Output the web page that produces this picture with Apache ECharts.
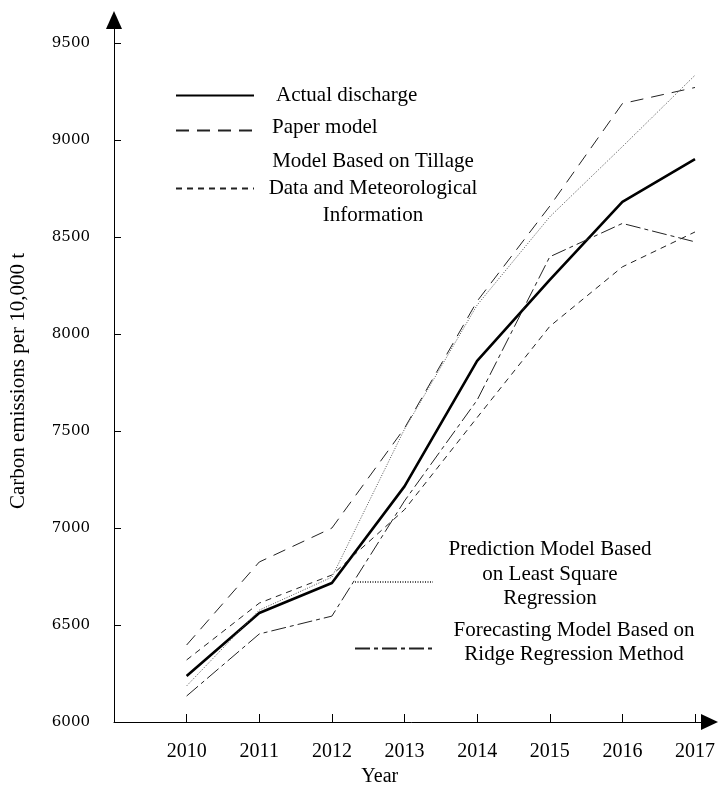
<!DOCTYPE html>
<html>
<head>
<meta charset="utf-8">
<script src="https://cdn.jsdelivr.net/npm/echarts@6/dist/echarts.min.js"></script>
<style>
  html, body { margin: 0; padding: 0; background: #fff; }
  #chart { width: 718px; height: 792px; }
</style>
</head>
<body>
<div id="chart"></div>
<script>
  // values
  var years = [2010, 2011, 2012, 2013, 2014, 2015, 2016, 2017];
  var actual = [6237, 6562, 6717, 7215, 7862, 8280, 8682, 8902];
  var paper = [6397, 6825, 7000, 7515, 8170, 8660, 9189, 9272];
  var tillage = [6320, 6613, 6758, 7095, 7570, 8040, 8347, 8527];
  var leastSquare = [6186, 6577, 6747, 7510, 8150, 8605, 8967, 9335];
  var ridge = [6134, 6454, 6546, 7140, 7660, 8399, 8571, 8476];

  var names = [
    'Actual discharge',
    'Paper model',
    'Model Based on Tillage\nData and Meteorological\nInformation',
    'Prediction Model Based\non Least Square\nRegression',
    'Forecasting Model Based on\nRidge Regression Method'
  ];

  var serif = 'Liberation Serif';

  function pairs(vals) {
    return years.map(function (y, i) { return [y, vals[i]]; });
  }

  function line(name, vals, style) {
    return {
      name: name,
      type: 'line',
      symbol: 'none',
      showSymbol: false,
      silent: true,
      lineStyle: style,
      data: pairs(vals)
    };
  }

  function legendBox(name, left, top, boxWidth, lineH, align, pad) {
    return {
      data: [name],
      left: left,
      top: top,
      padding: 0,
      itemWidth: 78,
      itemHeight: 14,
      selectedMode: false,
      itemStyle: { opacity: 0 },
      formatter: function (n) { return '{t|' + n + '}'; },
      textStyle: {
        padding: pad,
        rich: {
          t: {
            fontFamily: serif,
            fontSize: 21,
            color: '#000',
            lineHeight: lineH,
            width: boxWidth,
            align: align
          }
        }
      }
    };
  }

  var chart = echarts.init(document.getElementById('chart'));
  chart.setOption({
    animation: false,
    backgroundColor: '#fff',
    grid: { left: 114, right: 8, top: 20, bottom: 70 },
    legend: [
      legendBox(names[0], 175, 85, 160, 24, 'left', [0, 0, 0, 17]),
      legendBox(names[1], 175, 117, 160, 24, 'left', [0, 0, 6, 13]),
      legendBox(names[2], 175, 151, 228, 27, 'center', 0),
      legendBox(names[3], 354, 539, 224, 24.5, 'center', [0, 0, 16, 0]),
      legendBox(names[4], 354, 620, 272, 24, 'center', [0, 0, 12, 0])
    ],
    xAxis: {
      type: 'value',
      min: 2009,
      max: 2017.2,
      interval: 1,
      name: 'Year',
      nameLocation: 'middle',
      nameGap: 43,
      nameTextStyle: { fontFamily: serif, fontSize: 20, color: '#000', padding: [0, 64, 0, 0] },
      splitLine: { show: false },
      axisLine: {
        lineStyle: { color: '#000', width: 1 },
        symbol: ['none', 'triangle'],
        symbolSize: [16, 17]
      },
      axisTick: { inside: true, length: 8, lineStyle: { color: '#000' } },
      axisLabel: {
        margin: 20,
        showMaxLabel: false,
        fontFamily: serif,
        fontSize: 20,
        color: '#000',
        formatter: function (v) { return (v >= 2010 && v % 1 === 0) ? String(v) : ''; }
      }
    },
    yAxis: {
      type: 'value',
      min: 6000,
      max: 9620,
      interval: 500,
      name: 'Carbon emissions per 10,000 t',
      nameLocation: 'middle',
      nameGap: 85,
      nameTextStyle: { fontFamily: serif, fontSize: 21, color: '#000', padding: [0, 20, 0, 0] },
      splitLine: { show: false },
      axisLine: {
        lineStyle: { color: '#000', width: 1 },
        symbol: ['none', 'triangle'],
        symbolSize: [16, 18]
      },
      axisTick: { inside: true, length: 7, lineStyle: { color: '#000' } },
      axisLabel: {
        margin: 24,
        showMaxLabel: false,
        fontFamily: 'DejaVu Serif',
        fontSize: 15,
        color: '#000',
        formatter: function (v) { return v % 500 === 0 ? String(v) : ''; }
      }
    },
    series: [
      line(names[0], actual, { color: '#000', width: 2.6, type: 'solid' }),
      line(names[1], paper, { color: '#222', width: 1, type: [13, 8] }),
      line(names[2], tillage, { color: '#222', width: 1, type: [6, 5] }),
      line(names[3], leastSquare, { color: '#555', width: 1, type: [1, 1.5] }),
      line(names[4], ridge, { color: '#222', width: 1, type: [15, 4, 4, 4] })
    ]
  });
</script>
</body>
</html>
